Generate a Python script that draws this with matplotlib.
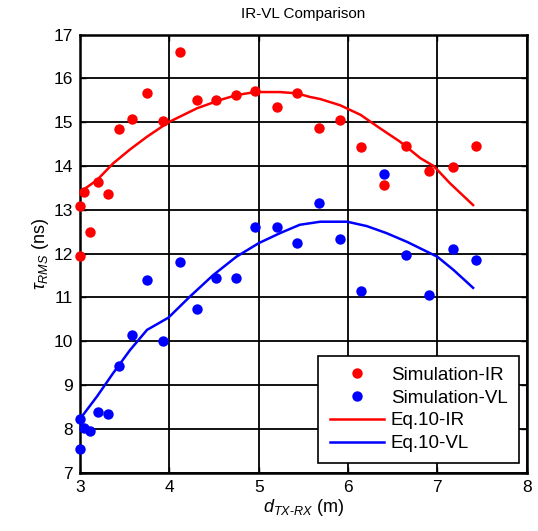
import matplotlib
matplotlib.use("Agg")
import matplotlib.pyplot as plt

plt.rcParams['font.family'] = ['Liberation Sans', 'DejaVu Sans']
plt.rcParams['mathtext.fontset'] = 'custom'
plt.rcParams['mathtext.rm'] = 'Liberation Sans'
plt.rcParams['mathtext.it'] = 'Liberation Sans:italic'
plt.rcParams['mathtext.sf'] = 'Liberation Sans'

# Simulation IR points
ir_x = [3.00, 3.00, 3.05, 3.11, 3.20, 3.31, 3.44, 3.58, 3.75, 3.93, 4.12, 4.31, 4.52,
        4.75, 4.96, 5.20, 5.43, 5.67, 5.91, 6.15, 6.40, 6.65, 6.91, 7.17, 7.43]
ir_y = [13.09, 11.95, 13.41, 12.50, 13.63, 13.37, 14.85, 15.07, 15.66, 15.02, 16.60, 15.52, 15.52,
        15.62, 15.72, 15.34, 15.66, 14.88, 15.05, 14.44, 13.57, 14.46, 13.89, 13.99, 14.46]

# Simulation VL points
vl_x = [3.00, 3.00, 3.05, 3.11, 3.20, 3.31, 3.44, 3.58, 3.75, 3.93, 4.12, 4.31, 4.52,
        4.75, 4.96, 5.20, 5.43, 5.67, 5.91, 6.15, 6.40, 6.65, 6.91, 7.17, 7.43]
vl_y = [8.22, 7.53, 8.03, 7.95, 8.38, 8.35, 9.44, 10.14, 11.40, 10.01, 11.82, 10.73, 11.44,
        11.44, 12.60, 12.60, 12.25, 13.15, 12.34, 11.15, 13.82, 11.98, 11.06, 12.11, 11.86]

# Eq.10 curves
eq_ir_x = [3.045, 3.19, 3.37, 3.56, 3.75, 3.99, 4.31, 4.57, 4.75, 4.96, 5.24, 5.43, 5.57,
           5.69, 5.91, 6.14, 6.36, 6.58, 6.81, 6.96, 7.14, 7.40]
eq_ir_y = [13.47, 13.68, 14.06, 14.38, 14.67, 15.00, 15.32, 15.51, 15.62, 15.69, 15.69, 15.66, 15.58,
           15.53, 15.39, 15.17, 14.86, 14.56, 14.18, 14.00, 13.61, 13.11]
eq_vl_x = [3.02, 3.19, 3.37, 3.56, 3.75, 3.99, 4.23, 4.49, 4.75, 5.00, 5.24, 5.46, 5.69,
           5.99, 6.21, 6.43, 6.66, 6.88, 7.00, 7.18, 7.40]
eq_vl_y = [8.28, 8.74, 9.27, 9.80, 10.26, 10.54, 11.02, 11.51, 11.93, 12.24, 12.47, 12.66, 12.73,
           12.73, 12.63, 12.47, 12.27, 12.05, 11.93, 11.63, 11.22]

fig = plt.figure(figsize=(5.38, 5.31), dpi=100)
ax = fig.add_axes([0.1487, 0.1098, 0.8303, 0.8249])

ax.plot(ir_x, ir_y, 'o', color='#ff0000', markersize=7.5, markeredgewidth=0, label='Simulation-IR', clip_on=False, zorder=4)
ax.plot(vl_x, vl_y, 'o', color='#0000ff', markersize=7.5, markeredgewidth=0, label='Simulation-VL', clip_on=False, zorder=4)
ax.plot(eq_ir_x, eq_ir_y, '-', color='#ff0000', linewidth=1.8, label='Eq.10-IR', zorder=3)
ax.plot(eq_vl_x, eq_vl_y, '-', color='#0000ff', linewidth=1.8, label='Eq.10-VL', zorder=3)

ax.set_xlim(3, 8)
ax.set_ylim(7, 17)
ax.set_xticks([3, 4, 5, 6, 7, 8])
ax.set_yticks(list(range(7, 18)))
ax.grid(True, color='black', linewidth=1.3, linestyle='-')
ax.set_axisbelow(True)
for s in ax.spines.values():
    s.set_linewidth(1.8)
ax.tick_params(direction='in', length=4, width=1, top=True, right=True, labelsize=12.5, pad=5)

ax.set_title('IR-VL Comparison', fontsize=11, pad=12)
ax.set_xlabel('$d_{TX\u2010RX}$ (m)', fontsize=13, labelpad=2)
ax.set_ylabel(r'$\tau_{RMS}$ (ns)', fontsize=13, labelpad=2)

leg = ax.legend(loc='lower right', bbox_to_anchor=(0.982, 0.021), borderaxespad=0,
                fontsize=13.5, frameon=True, fancybox=False, edgecolor='black',
                handlelength=2.9, labelspacing=0.3, borderpad=0.6, handletextpad=0.35)
leg.get_frame().set_linewidth(1.2)
leg.get_frame().set_alpha(1)

fig.savefig('out.png', dpi=100)
